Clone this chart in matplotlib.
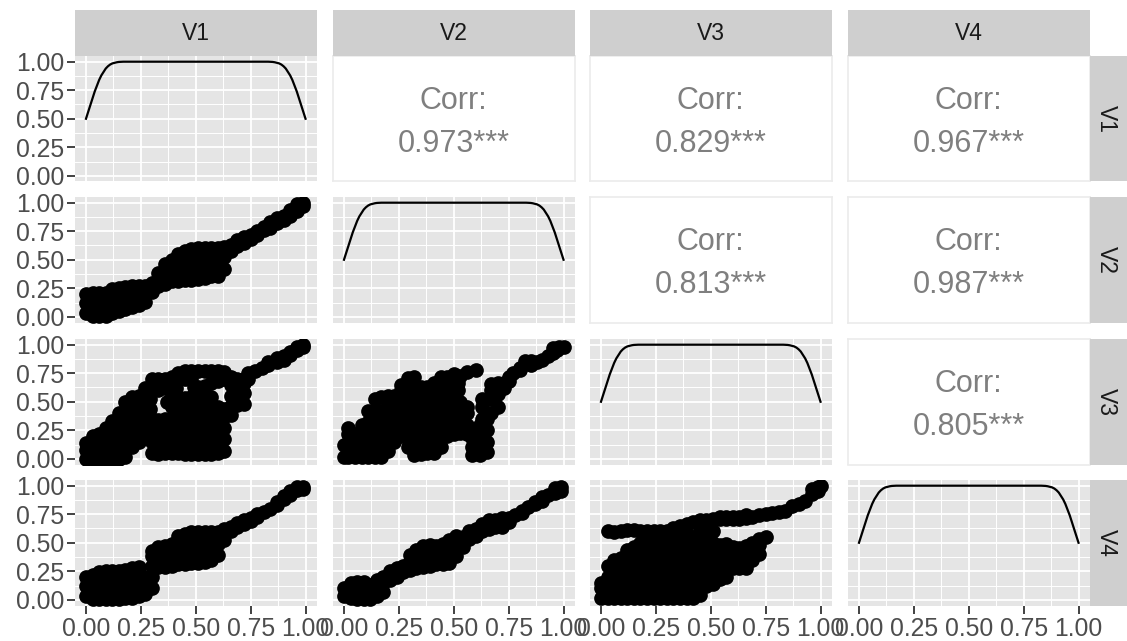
import numpy as np
import matplotlib
matplotlib.use('Agg')
import matplotlib.pyplot as plt

plt.rcParams['font.family'] = ['Liberation Sans', 'DejaVu Sans']

names = ['V1', 'V2', 'V3', 'V4']
ticks = [0, 0.25, 0.5, 0.75, 1]
tick_labels = ['0.00', '0.25', '0.50', '0.75', '1.00']

# correlation text for the upper triangle
corr = {(0, 1): '0.973***', (0, 2): '0.829***', (0, 3): '0.967***',
        (1, 2): '0.813***', (1, 3): '0.987***', (2, 3): '0.805***'}

# density curve, same shape on all the diagonals
dens_x = [0, .01, .02, .03, .04, .05, .06, .07, .08, .09, .1, .11, .12, .13, .14, .15, .17, .2, .5,
          .8, .83, .85, .86, .87, .88, .89, .9, .91, .92, .93, .94, .95, .96, .97, .98, .99, 1]
dens_y = [.5, .56, .62, .68, .74, .79, .84, .88, .91, .94, .96, .975, .985, .99, .995, .998, 1, 1, 1,
          1, 1, .998, .995, .99, .985, .975, .96, .94, .91, .88, .84, .79, .74, .68, .62, .56, .5]

# scatter panels, column by column: (x, [y values])
v1_v2 = [(0, [.03, .12, .2]), (.03, [.01, .07, .14, .21]), (.06, [.01, .07, .14, .21]), (.09, [.01, .07, .14, .21]),
         (.12, [.03, .1, .17, .24]), (.15, [.05, .12, .19, .25]), (.18, [.07, .14, .2, .26]), (.21, [.09, .16, .22, .27]),
         (.24, [.1, .17, .23, .27]), (.27, [.13, .2, .27]), (.3, [.22, .3]), (.33, [.27, .33, .38]),
         (.36, [.29, .38, .46]), (.39, [.31, .4, .5]), (.42, [.31, .41, .5, .55]), (.45, [.32, .42, .52, .58]),
         (.48, [.32, .42, .52, .59]), (.51, [.33, .43, .53, .6]), (.54, [.34, .44, .54, .6]),
         (.57, [.36, .46, .55, .6]), (.6, [.36, .46, .55, .6]), (.63, [.42, .52, .61]), (.66, [.58, .63]),
         (.69, [.62, .67]), (.72, [.65, .7]), (.75, [.68, .72]), (.78, [.72, .75]), (.81, [.76, .79]),
         (.84, [.78, .83]), (.87, [.82, .87]), (.9, [.85, .88]), (.93, [.88, .94]), (.96, [.93, .99]),
         (.99, [.97, 1])]

v1_v3 = [(0, [0, .08, .14]), (.03, [0, .1, .2]), (.06, [0, .1, .2, .22]), (.09, [0, .1, .2, .27]),
         (.12, [0, .1, .2, .3, .33]), (.15, [0, .1, .2, .3, .4]), (.18, [.02, .12, .22, .32, .42, .5]),
         (.21, [.1, .2, .3, .4, .5, .54]), (.24, [.15, .25, .35, .45, .55]), (.27, [.22, .32, .42, .52, .62]),
         (.29, [.44, .52, .6]), (.3, [.05, .15, .25, .35, .62, .7]), (.33, [.04, .14, .24, .34, .6, .64, .7]),
         (.36, [.05, .15, .25, .35, .62, .65, .7]), (.37, [.5]), (.39, [.05, .15, .25, .35, .45, .55, .65, .72]),
         (.41, [.62]), (.42, [.05, .15, .25, .35, .45, .54, .7, .75]), (.45, [.04, .14, .24, .34, .44, .53, .7, .77]),
         (.48, [.04, .14, .24, .34, .44, .54, .7, .77]), (.49, [.63]), (.51, [.04, .14, .24, .34, .44, .54, .63, .77]),
         (.54, [.04, .14, .24, .34, .44, .54, .64, .77]), (.57, [.04, .14, .24, .34, .44, .54, .66, .77]),
         (.6, [.05, .15, .25, .35, .45, .68, .77]), (.63, [.07, .17, .27, .37, .44, .7, .76]),
         (.66, [.38, .46, .55, .65, .72]), (.69, [.47, .56, .65, .7]), (.72, [.48, .58, .66, .7]), (.74, [.7, .75]),
         (.77, [.77]), (.8, [.8]), (.83, [.82, .85]), (.87, [.85, .88]), (.9, [.87, .9]), (.93, [.91, .94]),
         (.96, [.95, .98]), (.99, [.98, 1])]

v1_v4 = [(0, [.03, .12, .2]), (.03, [.01, .07, .14, .22]), (.06, [.01, .07, .14, .2, .24]), (.09, [.01, .07, .14, .2, .25]),
         (.12, [.01, .07, .14, .2, .25]), (.15, [.01, .07, .14, .2, .25]), (.18, [.02, .08, .14, .2, .26]),
         (.21, [.02, .08, .14, .2, .28]), (.24, [.03, .12, .2, .29]), (.27, [.05, .12, .2]), (.3, [.1, .2, .3, .38, .43]),
         (.33, [.29, .37, .46]), (.36, [.29, .38, .47]), (.39, [.3, .4, .49]), (.42, [.31, .41, .5, .56]),
         (.45, [.31, .41, .5, .58]), (.48, [.32, .42, .52, .59]), (.51, [.32, .42, .52, .59]), (.54, [.33, .43, .53, .59]),
         (.57, [.35, .45, .55, .59]), (.6, [.39, .49, .59]), (.63, [.52, .62]), (.66, [.6, .64]), (.69, [.64, .67]),
         (.72, [.66, .7]), (.75, [.69, .72]), (.78, [.73, .75]), (.81, [.77]), (.84, [.8]), (.87, [.83, .86]),
         (.9, [.88, .91]), (.93, [.92, .95]), (.96, [.96, .99]), (.99, [.97, .99])]

v2_v3 = [(0, [.02, .12]), (.02, [.02, .12, .22, .27]), (.05, [.02, .12, .22]), (.08, [.02, .12, .22, .3]),
         (.11, [.02, .12, .22, .32, .42]), (.14, [.02, .12, .22, .32, .42, .52]), (.17, [.02, .12, .22, .32, .42, .54]),
         (.2, [.07, .17, .27, .37, .47, .55]), (.23, [.15, .25, .35, .45, .55]), (.26, [.2, .3, .4, .5, .6, .65]),
         (.29, [.1, .2, .3, .4, .5, .6, .71]), (.32, [.03, .13, .23, .33, .43, .53, .63, .72]),
         (.35, [.04, .14, .24, .34, .44, .54, .63]), (.38, [.05, .15, .25, .35, .45, .55, .63]),
         (.41, [.05, .15, .25, .35, .45, .55, .66]), (.44, [.1, .2, .3, .4, .5, .6, .72]),
         (.47, [.2, .3, .4, .5, .6, .72]), (.5, [.22, .32, .42, .52, .62, .68, .74]), (.52, [.6, .66]),
         (.53, [.23, .33, .43, .5, .73]), (.56, [.22, .3, .4, .45, .76]), (.585, [.03, .1, .18]), (.59, [.25]),
         (.6, [.78]), (.62, [.03, .1, .2, .3]), (.63, [.35, .45, .52]), (.65, [.06, .15, .25, .35]),
         (.67, [.4, .52, .6, .655]), (.7, [.45, .57, .66]), (.73, [.62, .66]), (.75, [.68, .72]), (.77, [.75]),
         (.8, [.78, .8]), (.825, [.86]), (.85, [.82, .86]), (.88, [.85]), (.9, [.87]), (.93, [.9]), (.95, [.93, .97]),
         (.97, [.95]), (.98, [.98]), (1, [.98])]

v2_v4 = [(0, [.03, .1]), (.03, [.02, .1, .15]), (.06, [.01, .1, .16]), (.09, [.01, .1, .16]), (.12, [.01, .1, .13]),
         (.15, [.03, .1, .17]), (.18, [.07, .15, .2]), (.21, [.17, .25]), (.24, [.2, .28]), (.27, [.24, .3]),
         (.3, [.26, .34, .39]), (.33, [.28, .37, .44]), (.36, [.29, .38, .47]), (.39, [.3, .4, .48]),
         (.42, [.31, .4, .47]), (.45, [.31, .4, .49]), (.48, [.32, .41, .52]), (.51, [.38, .46, .56]),
         (.54, [.46, .55]), (.57, [.53, .6]), (.6, [.56, .62]), (.63, [.6, .66]), (.66, [.62, .7]), (.69, [.64, .7]),
         (.72, [.64, .72]), (.75, [.68, .72]), (.78, [.74]), (.81, [.76, .78]), (.84, [.81]), (.87, [.84, .86]),
         (.9, [.87, .9]), (.93, [.92]), (.96, [.94, .98]), (.99, [.95, .99])]

v3_v4 = [(0, [.02, .1, .15]), (.03, [.02, .1, .2, .3, .6]), (.06, [.02, .1, .2, .3, .35, .59]),
         (.09, [.02, .1, .2, .3, .37, .6]), (.12, [.02, .1, .2, .3, .38, .44, .61]), (.15, [.02, .1, .2, .3, .38, .46, .61]),
         (.18, [.02, .1, .2, .3, .4, .5, .6]), (.21, [.02, .1, .2, .3, .4, .5, .55, .6]), (.24, [.02, .1, .2, .3, .4, .5, .55, .6]),
         (.27, [.02, .1, .2, .3, .4, .5, .55, .6]), (.3, [.02, .1, .2, .3, .4, .5, .55, .6]), (.33, [.02, .1, .2, .3, .4, .5, .58, .63]),
         (.36, [.02, .1, .2, .3, .4, .5, .58, .65]), (.39, [.02, .1, .2, .3, .4, .5, .58, .66]),
         (.42, [.02, .1, .2, .3, .4, .5, .55, .68]), (.45, [.04, .1, .2, .3, .4, .5, .6, .7]),
         (.48, [.12, .2, .3, .4, .5, .6, .7]), (.51, [.14, .22, .3, .4, .5, .6, .71]), (.54, [.18, .28, .38, .48, .71, .73]),
         (.57, [.2, .28, .38, .49, .71, .73]), (.6, [.28, .38, .46, .71, .73]), (.63, [.28, .38, .45, .71, .73]),
         (.66, [.28, .38, .47, .72, .74]), (.69, [.35, .45, .5, .73]), (.72, [.4, .48, .53, .74]), (.75, [.55, .75]),
         (.78, [.76]), (.81, [.77]), (.84, [.78]), (.87, [.82]), (.9, [.84]), (.93, [.87]), (.96, [.93, .97]),
         (.99, [.95, .99]), (1, [1])]

scatter_data = {(1, 0): v1_v2, (2, 0): v1_v3, (3, 0): v1_v4,
                (2, 1): v2_v3, (3, 1): v2_v4, (3, 2): v3_v4}

W, H = 1127, 641
col_left = [75, 333, 590, 848]
row_top = [56, 197, 339, 480]
panel_w = 241.5
panel_h = 125.5

fig = plt.figure(figsize=(W / 100, H / 100), dpi=100)


def px_axes(left, top, w, h):
    return fig.add_axes([left / W, 1 - (top + h) / H, w / W, h / H])


for r in range(4):
    for c in range(4):
        ax = px_axes(col_left[c], row_top[r], panel_w, panel_h)
        ax.set_xlim(-0.05, 1.05)
        ax.set_ylim(-0.05, 1.05)
        ax.set_xticks(ticks)
        ax.set_yticks(ticks)
        ax.set_xticklabels(tick_labels if r == 3 else [])
        ax.set_yticklabels(tick_labels if c == 0 else [])
        ax.tick_params(axis='x', length=6 if r == 3 else 0, width=1.3, color='#333333',
                       labelsize=17.8, labelcolor='#4D4D4D', pad=2)
        ax.tick_params(axis='y', length=6 if c == 0 else 0, width=1.3, color='#333333',
                       labelsize=17.8, labelcolor='#4D4D4D', pad=2)

        if r < c:
            # correlation box
            ax.set_facecolor('white')
            for s in ax.spines.values():
                s.set_color('#EBEBEB')
                s.set_linewidth(1.2)
            ax.text(0.5, 0.64, 'Corr:', transform=ax.transAxes, ha='center', va='center',
                    fontsize=22, color='#7F7F7F')
            ax.text(0.5, 0.30, corr[(r, c)], transform=ax.transAxes, ha='center', va='center',
                    fontsize=22, color='#7F7F7F')
        else:
            ax.set_facecolor('#E5E5E5')
            for s in ax.spines.values():
                s.set_visible(False)
            ax.set_axisbelow(True)
            ax.set_xticks([.125, .375, .625, .875], minor=True)
            ax.set_yticks([.125, .375, .625, .875], minor=True)
            ax.tick_params(which='minor', length=0)
            ax.grid(which='major', color='white', linewidth=1.3)
            ax.grid(which='minor', color='white', linewidth=0.7)
            if r == c:
                ax.plot(dens_x, dens_y, color='black', linewidth=1.6)
            else:
                xs = []
                ys = []
                for x, col in scatter_data[(r, c)]:
                    for y in col:
                        xs.append(x)
                        ys.append(y)
                ax.scatter(xs, ys, s=112, color='black', linewidths=0)

    # right strip
    st = px_axes(col_left[3] + panel_w, row_top[r], W - col_left[3] - panel_w, panel_h)
    st.set_facecolor('#CFCFCF')
    st.set_xticks([])
    st.set_yticks([])
    for s in st.spines.values():
        s.set_visible(False)
    st.text(0.45, 0.5, names[r], transform=st.transAxes, rotation=-90, ha='center', va='center',
            fontsize=16.5, color='#1A1A1A')

# top strips
for c in range(4):
    st = px_axes(col_left[c], 10, panel_w, 46)
    st.set_facecolor('#CFCFCF')
    st.set_xticks([])
    st.set_yticks([])
    for s in st.spines.values():
        s.set_visible(False)
    st.text(0.5, 0.5, names[c], transform=st.transAxes, ha='center', va='center',
            fontsize=16.5, color='#1A1A1A')

fig.savefig('out.png', dpi=100)
